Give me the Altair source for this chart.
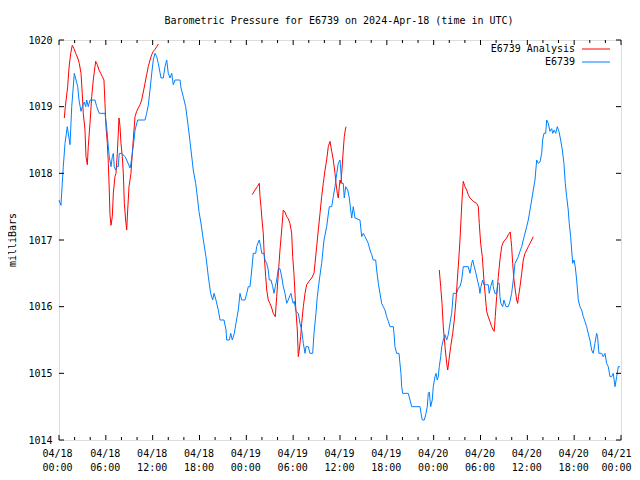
import altair as alt
import pandas as pd

TITLE = "Barometric Pressure for E6739 on 2024-Apr-18 (time in UTC)"
Y_TITLE = "milliBars"
SERIES = ["E6739 Analysis", "E6739"]
COLORS = ["#ff0000", "#0080ff"]
FONT = "DejaVu Sans Mono"

# E6739 observations: hours since 2024-04-18 00:00 UTC, pressure (mb)
obs_hours = [0.0, 0.25, 0.55, 0.77, 1.06, 1.41, 1.63, 1.96, 2.18, 2.4, 2.56, 2.82, 2.98, 3.24, 3.42, 3.55, 3.75, 3.97,
             4.61, 4.83, 5.16, 5.89, 6.1, 6.32, 6.44, 6.66, 6.83, 6.96, 7.08, 7.26, 7.43, 7.6, 7.72, 8.03, 8.46, 8.67,
             9.1, 9.22, 9.39, 9.61, 9.74, 10.08, 11.02, 11.23, 11.44, 11.66, 11.88, 12.08, 12.3, 12.52, 12.72, 13.07,
             13.36, 13.58, 13.8, 14.0, 14.22, 14.44, 14.64, 14.86, 15.28, 15.5, 15.63, 15.92, 16.23, 16.56, 16.91,
             17.2, 17.51, 17.77, 17.93, 18.19, 18.49, 18.83, 19.13, 19.43, 19.69, 19.86, 20.11, 20.41, 20.63, 21.14,
             21.4, 21.48, 21.82, 22.0, 22.2, 22.46, 22.67, 22.97, 23.19, 23.4, 23.83, 24.05, 24.25, 24.47, 24.69,
             24.89, 25.2, 25.33, 25.53, 25.66, 25.84, 25.97, 26.26, 26.39, 26.61, 26.81, 26.94, 27.16, 27.38, 27.54,
             27.71, 27.89, 28.1, 28.31, 28.44, 28.61, 28.73, 28.95, 29.17, 29.37, 29.59, 29.72, 29.89, 30.01, 30.14,
             30.36, 30.66, 30.87, 31.09, 31.3, 31.52, 31.64, 31.94, 32.15, 32.5, 32.67, 32.92, 33.09, 33.35, 33.65,
             33.95, 34.29, 34.63, 34.94, 35.14, 35.36, 35.58, 35.78, 36.0, 36.22, 36.42, 36.55, 36.73, 36.99, 37.19,
             37.37, 37.5, 37.7, 37.92, 38.56, 38.78, 38.98, 39.2, 39.42, 39.62, 39.84, 40.06, 40.26, 40.57, 40.7,
             40.91, 41.12, 41.34, 41.54, 41.76, 41.98, 42.19, 42.4, 42.83, 42.92, 43.04, 43.26, 43.56, 43.68, 43.81,
             43.9, 44.03, 44.75, 44.97, 45.18, 46.25, 46.38, 46.54, 46.8, 46.98, 47.18, 47.31, 47.44, 47.62, 47.82,
             47.95, 48.17, 48.3, 48.46, 48.59, 48.72, 48.9, 49.03, 49.23, 49.45, 49.67, 49.87, 50.09, 50.31, 50.51,
             50.95, 51.15, 51.37, 51.59, 51.79, 52.43, 52.65, 52.87, 53.0, 53.2, 53.42, 53.64, 53.81, 53.93, 54.06,
             54.28, 54.44, 54.79, 54.99, 55.12, 55.3, 55.56, 55.63, 55.85, 56.07, 56.2, 56.4, 56.49, 56.62, 56.84,
             57.0, 57.26, 57.56, 57.78, 57.99, 58.2, 58.42, 58.64, 58.84, 59.06, 59.28, 59.48, 59.7, 59.92, 60.12,
             60.34, 60.56, 60.76, 60.98, 61.2, 61.4, 61.62, 61.84, 61.96, 62.13, 62.35, 62.48, 62.68, 62.9, 63.12,
             63.25, 63.45, 63.63, 63.84, 64.05, 64.27, 64.48, 64.69, 64.86, 65.04, 65.24, 65.37, 65.55, 65.68, 65.81,
             65.98, 66.14, 66.32, 66.53, 66.74, 66.96, 67.17, 67.38, 67.6, 67.8, 68.02, 68.24, 68.44, 68.66, 68.88,
             69.0, 69.17, 69.52, 69.72, 69.95, 70.16, 70.37, 70.59, 70.8, 71.01, 71.23, 71.45, 71.65, 71.87]
obs_mb = [1017.6, 1017.52, 1018.1, 1018.45, 1018.7, 1018.43, 1019.0, 1019.5, 1019.4, 1019.3, 1019.1, 1018.93, 1019.0,
          1019.07, 1019.0, 1019.1, 1019.0, 1019.1, 1019.1, 1019.0, 1018.9, 1018.9, 1018.7, 1018.4, 1018.25, 1018.1,
          1018.25, 1018.3, 1018.1, 1018.05, 1018.1, 1018.1, 1018.3, 1018.3, 1018.25, 1018.2, 1018.08, 1018.15,
          1018.3, 1018.5, 1018.65, 1018.8, 1018.8, 1018.9, 1019.02, 1019.25, 1019.5, 1019.7, 1019.8, 1019.75,
          1019.65, 1019.43, 1019.43, 1019.6, 1019.7, 1019.5, 1019.43, 1019.5, 1019.33, 1019.4, 1019.4, 1019.4,
          1019.28, 1019.15, 1019.0, 1018.7, 1018.35, 1018.05, 1017.85, 1017.6, 1017.43, 1017.25, 1017.0, 1016.75,
          1016.45, 1016.2, 1016.1, 1016.2, 1016.1, 1015.95, 1015.8, 1015.8, 1015.65, 1015.5, 1015.5, 1015.6,
          1015.5, 1015.6, 1015.75, 1015.95, 1016.2, 1016.1, 1016.1, 1016.2, 1016.3, 1016.3, 1016.55, 1016.8,
          1016.8, 1016.9, 1016.97, 1017.0, 1016.9, 1016.8, 1016.8, 1016.7, 1016.65, 1016.55, 1016.4, 1016.4,
          1016.3, 1016.2, 1016.3, 1016.4, 1016.57, 1016.57, 1016.5, 1016.4, 1016.3, 1016.2, 1016.05, 1016.1,
          1016.17, 1016.2, 1016.1, 1016.05, 1016.08, 1015.93, 1015.9, 1015.75, 1015.65, 1015.45, 1015.3, 1015.4,
          1015.4, 1015.3, 1015.3, 1015.6, 1015.9, 1016.15, 1016.4, 1016.65, 1017.0, 1017.2, 1017.5, 1017.5,
          1017.65, 1017.8, 1018.0, 1018.15, 1018.2, 1017.85, 1017.85, 1017.63, 1017.8, 1017.75, 1017.63, 1017.45,
          1017.33, 1017.5, 1017.33, 1017.3, 1017.05, 1017.1, 1017.05, 1017.0, 1016.95, 1016.85, 1016.78, 1016.7,
          1016.7, 1016.55, 1016.35, 1016.2, 1016.05, 1016.0, 1015.95, 1015.85, 1015.78, 1015.7, 1015.7, 1015.6,
          1015.4, 1015.3, 1015.3, 1015.15, 1015.0, 1014.8, 1014.7, 1014.7, 1014.6, 1014.5, 1014.5, 1014.4,
          1014.3, 1014.3, 1014.38, 1014.5, 1014.7, 1014.72, 1014.5, 1014.6, 1014.8, 1014.95, 1015.0, 1014.9,
          1014.95, 1015.1, 1015.25, 1015.4, 1015.5, 1015.58, 1015.5, 1015.58, 1015.75, 1015.9, 1016.2, 1016.2,
          1016.28, 1016.3, 1016.4, 1016.6, 1016.6, 1016.5, 1016.65, 1016.7, 1016.6, 1016.5, 1016.38, 1016.3,
          1016.2, 1016.3, 1016.4, 1016.33, 1016.33, 1016.33, 1016.2, 1016.3, 1016.4, 1016.3, 1016.2, 1016.2,
          1016.35, 1016.35, 1016.15, 1016.05, 1016.0, 1016.1, 1016.0, 1016.0, 1016.08, 1016.2, 1016.4, 1016.65,
          1016.7, 1016.75, 1016.83, 1016.9, 1017.0, 1017.1, 1017.2, 1017.3, 1017.45, 1017.6, 1017.75, 1017.9,
          1018.2, 1018.15, 1018.17, 1018.3, 1018.5, 1018.6, 1018.6, 1018.8, 1018.75, 1018.63, 1018.67, 1018.6,
          1018.65, 1018.6, 1018.7, 1018.63, 1018.5, 1018.35, 1018.15, 1017.85, 1017.65, 1017.45, 1017.25, 1017.05,
          1016.85, 1016.65, 1016.7, 1016.6, 1016.4, 1016.1, 1016.0, 1015.95, 1015.85, 1015.78, 1015.7, 1015.6,
          1015.5, 1015.35, 1015.3, 1015.45, 1015.6, 1015.55, 1015.3, 1015.3, 1015.25, 1015.3, 1015.15, 1015.1,
          1014.95, 1014.95, 1015.0, 1014.8, 1014.95, 1015.1, 1015.1]

# E6739 Analysis: three runs, hours since 2024-04-18 00:00 UTC, pressure (mb)
ana_hours = [0.68, 0.81, 1.11, 1.28, 1.5, 1.7, 1.92, 2.14, 2.4, 2.6, 2.82, 2.98, 3.11, 3.33, 3.46, 3.63, 3.75, 3.97,
             4.19, 4.39, 4.61, 4.7, 4.91, 5.12, 5.34, 5.55, 5.76, 5.89, 6.02, 6.19, 6.32, 6.44, 6.53, 6.66, 6.83,
             6.96, 7.17, 7.3, 7.47, 7.69, 7.82, 7.94, 8.11, 8.24, 8.37, 8.54, 8.67, 8.8, 8.97, 9.22, 9.39, 9.61,
             9.74, 9.95, 10.16, 10.38, 10.59, 10.8, 11.02, 11.23, 11.44, 11.66, 11.88, 12.08, 12.3, 12.52, 12.72,
             24.76, 25.11, 25.4, 25.66, 25.75, 25.88, 26.01, 26.17, 26.3, 26.48, 26.61, 26.81, 27.03, 27.25, 27.45,
             27.71, 27.89, 28.1, 28.31, 28.53, 28.73, 28.95, 29.17, 29.37, 29.59, 29.81, 29.94, 30.1, 30.32, 30.53,
             30.66, 30.78, 30.96, 31.09, 31.3, 31.52, 31.73, 32.03, 32.37, 32.67, 32.8, 33.01, 33.22, 33.44, 33.65,
             33.86, 34.08, 34.29, 34.5, 34.72, 34.94, 35.14, 35.36, 35.49, 35.65, 35.78, 35.91, 36.0, 36.12, 36.25,
             36.42, 36.55, 36.68, 36.77,
             48.72, 48.9, 49.07, 49.23, 49.45, 49.67, 49.8, 49.96, 50.18, 50.44, 50.64, 50.86, 51.03, 51.21, 51.37,
             51.5, 51.63, 51.79, 52.01, 52.23, 52.43, 52.65, 53.07, 53.51, 53.72, 53.84, 54.02, 54.23, 54.44, 54.66,
             54.79, 54.99, 55.21, 55.43, 55.63, 55.76, 55.89, 56.07, 56.28, 56.49, 56.71, 56.92, 57.35, 57.56,
             57.81, 57.99, 58.12, 58.29, 58.45, 58.64, 58.76, 58.87, 59.06, 59.28, 59.48, 59.7, 59.92, 60.12,
             60.34, 60.56, 60.76]
ana_mb = [1018.83, 1019.0, 1019.3, 1019.58, 1019.8, 1019.92, 1019.87, 1019.8, 1019.73, 1019.65, 1019.5, 1019.2,
          1018.9, 1018.65, 1018.25, 1018.13, 1018.4, 1018.75, 1019.15, 1019.4, 1019.6, 1019.68, 1019.63, 1019.55,
          1019.5, 1019.45, 1019.4, 1019.05, 1018.7, 1018.45, 1018.15, 1017.75, 1017.38, 1017.22, 1017.35, 1017.7,
          1017.95, 1018.0, 1018.3, 1018.83, 1018.7, 1018.45, 1018.25, 1018.0, 1017.55, 1017.3, 1017.15, 1017.45,
          1017.8, 1018.0, 1018.3, 1018.65, 1018.85, 1018.93, 1018.98, 1019.03, 1019.1, 1019.22, 1019.35, 1019.48,
          1019.6, 1019.7, 1019.78, 1019.83, 1019.86, 1019.9, 1019.94,
          1017.68, 1017.75, 1017.8, 1017.85, 1017.65, 1017.5, 1017.3, 1017.1, 1016.75, 1016.45, 1016.25, 1016.1,
          1016.05, 1015.98, 1015.9, 1015.85, 1016.15, 1016.5, 1016.85, 1017.15, 1017.45, 1017.42, 1017.35,
          1017.32, 1017.25, 1017.1, 1016.75, 1016.5, 1016.0, 1015.65, 1015.25, 1015.35, 1015.55, 1015.75, 1016.0,
          1016.2, 1016.33, 1016.38, 1016.43, 1016.5, 1016.65, 1016.9, 1017.15, 1017.4, 1017.65, 1017.85, 1018.05,
          1018.2, 1018.4, 1018.48, 1018.33, 1018.2, 1018.0, 1017.85, 1017.7, 1017.63, 1017.8, 1017.9, 1017.85,
          1018.05, 1018.35, 1018.55, 1018.65, 1018.7,
          1016.55, 1016.3, 1016.05, 1015.7, 1015.4, 1015.15, 1015.05, 1015.2, 1015.4, 1015.6, 1015.8, 1016.1,
          1016.4, 1016.7, 1017.0, 1017.3, 1017.6, 1017.88, 1017.8, 1017.75, 1017.68, 1017.63, 1017.58, 1017.55,
          1017.5, 1017.25, 1016.95, 1016.75, 1016.4, 1016.1, 1015.93, 1015.85, 1015.78, 1015.7, 1015.65, 1015.63,
          1015.85, 1016.15, 1016.45, 1016.7, 1016.9, 1016.97, 1017.03, 1017.08, 1017.12, 1016.9, 1016.65, 1016.4,
          1016.25, 1016.1, 1016.05, 1016.15, 1016.3, 1016.5, 1016.7, 1016.8, 1016.85, 1016.9, 1016.95, 1017.0,
          1017.05]

X_LABEL_HOURS = list(range(0, 73, 6))
X_MINOR_HOURS = [h for h in range(0, 73, 2) if h % 6 != 0]
Y_TICKS = [1014, 1015, 1016, 1017, 1018, 1019, 1020]

W, H = 562, 400

n1 = min(len(ana_hours), len(ana_mb))
runs = [1 if h < 20 else (2 if h < 44 else 3) for h in ana_hours[:n1]]
ana_df = pd.DataFrame({"h": ana_hours[:n1], "p": ana_mb[:n1], "run": runs})
n2 = min(len(obs_hours), len(obs_mb))
obs_df = pd.DataFrame({"h": obs_hours[:n2], "p": obs_mb[:n2]})

xscale = alt.Scale(domain=[0, 72], nice=False, zero=False)
yscale = alt.Scale(domain=[1014, 1020], nice=False, zero=False)

label_expr = ("['04/' + (18 + floor(datum.value / 24)), "
              "(datum.value % 24 < 10 ? '0' : '') + (datum.value % 24) + ':00']")

x_axis = alt.Axis(values=X_LABEL_HOURS, labelExpr=label_expr, ticks=False, domain=False, grid=False,
                  title=None, labelFont=FONT, labelFontSize=10, labelColor="black", labelPadding=8,
                  labelLineHeight=14, labelBaseline="top", labelFlush=False,
                  labelOffset=alt.expr("datum.value == 72 ? -5 : (datum.value == 0 ? -2 : -1)"))
y_axis = alt.Axis(values=Y_TICKS, format="d", ticks=False, domain=False, grid=False, title=None,
                  labelFont=FONT, labelFontSize=10, labelColor="black", labelPadding=7)

X = alt.X("h:Q", scale=xscale, axis=x_axis)
Y = alt.Y("p:Q", scale=yscale, axis=y_axis)

ana_line = alt.Chart(ana_df).mark_line(color=COLORS[0], strokeWidth=1).encode(
    x=X, y=Y, detail="run:N")
obs_line = alt.Chart(obs_df).mark_line(color=COLORS[1], strokeWidth=1).encode(x=X, y=Y)

major_df = pd.DataFrame({"h": X_LABEL_HOURS})
minor_df = pd.DataFrame({"h": X_MINOR_HOURS})
ytick_df = pd.DataFrame({"p": Y_TICKS})

tick_layers = []
for df, size in [(major_df, 5), (minor_df, 3)]:
    tick_layers.append(alt.Chart(df).mark_rule(color="black", strokeWidth=1).encode(
        x=X, y=alt.value(H), y2=alt.value(H - size)))
    tick_layers.append(alt.Chart(df).mark_rule(color="black", strokeWidth=1).encode(
        x=X, y=alt.value(0), y2=alt.value(size)))
tick_layers.append(alt.Chart(ytick_df).mark_rule(color="black", strokeWidth=1).encode(
    y=Y, x=alt.value(0), x2=alt.value(5)))
tick_layers.append(alt.Chart(ytick_df).mark_rule(color="black", strokeWidth=1).encode(
    y=Y, x=alt.value(W), x2=alt.value(W - 5)))

# legend (top-right, inside plot)
legend_layers = []
for i, (name, col) in enumerate(zip(SERIES, COLORS)):
    ldf = pd.DataFrame({"name": [name]})
    yy = 9 + 13 * i
    legend_layers.append(alt.Chart(ldf).mark_text(align="right", baseline="middle", font=FONT,
                                                  fontSize=10, color="black").encode(
        text="name:N", x=alt.value(516), y=alt.value(yy)))
    legend_layers.append(alt.Chart(ldf).mark_rule(color=col, strokeWidth=1).encode(
        x=alt.value(523), x2=alt.value(551), y=alt.value(yy)))

ytitle = alt.Chart(pd.DataFrame({"t": [Y_TITLE]})).mark_text(
    angle=270, align="center", baseline="middle", font=FONT, fontSize=10, color="black").encode(
    text="t:N", x=alt.value(-46), y=alt.value(H / 2))

title = alt.Chart(pd.DataFrame({"t": [TITLE]})).mark_text(
    align="center", baseline="middle", font=FONT, fontSize=10, color="black").encode(
    text="t:N", x=alt.value(280), y=alt.value(-19))

chart = alt.layer(ana_line, obs_line, *tick_layers, *legend_layers, ytitle, title).properties(
    width=W, height=H,
    autosize=alt.AutoSizeParams(type="none"),
    padding={"left": 51, "top": 32, "right": 11, "bottom": 32},
).configure_view(stroke="black", strokeWidth=1).configure(background="white")

chart.save("out.html", embed_options={"renderer": "svg", "actions": False})
